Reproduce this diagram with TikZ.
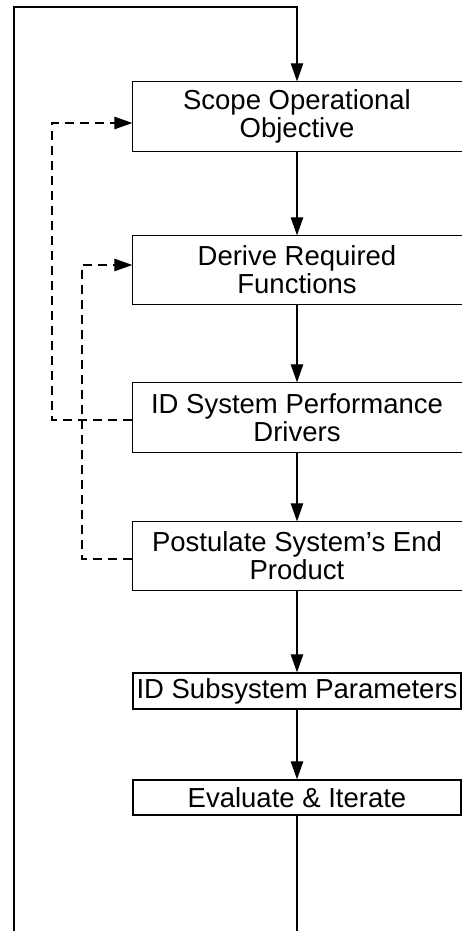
\documentclass[tikz,border=0pt]{standalone}
\usepackage{fontspec}
\setmainfont{Liberation Sans}
\usetikzlibrary{arrows.meta}

\tikzset{
  stage/.style={draw, line width=1.4pt, minimum width=328pt, inner sep=0pt,
    align=center, font=\fontsize{27.5}{28}\selectfont},
  openstage/.style={stage, draw=none},
  flow/.style={line width=1.2pt, -{Triangle[length=18pt,width=12.5pt]}},
  plain/.style={line width=1.2pt},
  feedback/.style={flow, dash pattern=on 9pt off 6pt}
}

\begin{document}
\begin{tikzpicture}[x=1pt,y=-1pt]
\useasboundingbox (0,0) rectangle (462,931);

% process stages (the upper four run past the right margin)
\node[openstage, minimum height=69pt] (b1) at (297,116.5) {Scope Operational\\Objective};
\node[openstage, minimum height=68pt] (b2) at (297,270)   {Derive Required\\Functions};
\node[openstage, minimum height=69pt] (b3) at (297,417.5) {ID System Performance\\Drivers};
\node[openstage, minimum height=68pt] (b4) at (297,556)   {Postulate System's End\\Product};
\node[stage, minimum height=36pt] (b5) at (297,691)   {ID Subsystem Parameters};
\node[stage, minimum height=35pt] (b6) at (297,797.5) {Evaluate \& Iterate};

\foreach \b in {b1,b2,b3,b4}
  \draw[line width=1.4pt] (\b.north west) rectangle ([xshift=8pt]\b.south east);

% main flow
\draw[flow] (b1) -- (b2);
\draw[flow] (b2) -- (b3);
\draw[flow] (b3) -- (b4);
\draw[flow] (b4) -- (b5);
\draw[flow] (b5) -- (b6);

% iteration loop back to the top
\coordinate (tail) at (297,931);
\coordinate (loop) at (14,931);
\draw[plain] (b6.south) -- (tail);
\draw[flow] (loop) -- (14,7) -| (b1.north);

% feedback paths
\draw[feedback] (b3.west |- 0,420) -| (52,123) -- (b1.west |- 0,123);
\draw[feedback] (b4.west |- 0,559) -| (82,265) -- (b2.west |- 0,265);
\end{tikzpicture}
\end{document}
